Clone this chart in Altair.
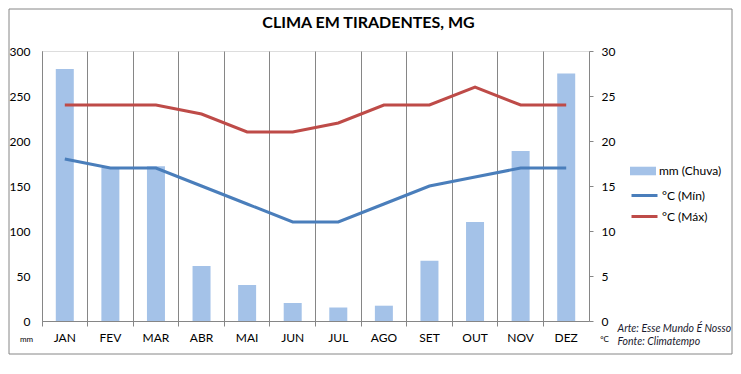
import altair as alt
import pandas as pd

months = ["JAN", "FEV", "MAR", "ABR", "MAI", "JUN", "JUL", "AGO", "SET", "OUT", "NOV", "DEZ"]
rain_mm = [280, 170, 172, 61, 40, 20, 15, 17, 67, 110, 189, 275]
temp_min = [18, 17, 17, 15, 13, 11, 11, 13, 15, 16, 17, 17]
temp_max = [24, 24, 24, 23, 21, 21, 22, 24, 24, 26, 24, 24]

rain_label = "mm (Chuva)"
min_label = "°C (Mín)"
max_label = "°C (Máx)"
title_text = "CLIMA EM TIRADENTES, MG"

FONT = "Lato"
GRAY = "#868686"
W, H = 547, 270

bars_df = pd.DataFrame({"mes": months, "chuva": rain_mm, "serie": rain_label})
lines_df = pd.DataFrame({
    "mes": months * 2,
    "temp": temp_min + temp_max,
    "serie": [min_label] * 12 + [max_label] * 12,
})

x_enc = alt.X(
    "mes:N", sort=months,
    scale=alt.Scale(paddingInner=0, paddingOuter=0),
    axis=alt.Axis(
        title=["Arte: Esse Mundo É Nosso", "Fonte: Climatempo"],
        titleX=575, titleY=10, titleAlign="left", titleAngle=0,
        titleBaseline="alphabetic", titleFontStyle="italic", titleFontWeight="normal",
        titleFontSize=10.5, titleLineHeight=13, titleColor="#1a1a2e", titleFont=FONT,
        labelAngle=0, labelFontSize=12, labelColor="#000", labelFont=FONT,
        labelPadding=6, tickSize=5, tickColor=GRAY, domainColor=GRAY,
        bandPosition=0, grid=True, gridColor=GRAY, gridOpacity=1,
    ),
)

one = pd.DataFrame({"k": [0]})

border = alt.Chart(one).mark_rect(
    fill=None, stroke=GRAY, strokeWidth=1
).encode(
    x=alt.value(-33), x2=alt.value(690), y=alt.value(-42), y2=alt.value(303)
)

title = alt.Chart(one).mark_text(
    font=FONT, fontSize=16, fontWeight="bold", color="#000",
    align="center", baseline="middle"
).encode(
    x=alt.value(W / 2 + 53), y=alt.value(-28), text=alt.value(title_text)
)

bars = alt.Chart(bars_df).mark_bar(width=18).encode(
    x=x_enc,
    y=alt.Y(
        "chuva:Q", scale=alt.Scale(domain=[0, 300], nice=False),
        axis=alt.Axis(
            orient="left", values=[0, 50, 100, 150, 200, 250, 300], grid=False,
            ticks=False, tickSize=0, labelPadding=12, domainColor=GRAY,
            labelFontSize=12, labelColor="#000", labelFont=FONT,
            title="mm", titleAngle=0, titleX=-16, titleY=288, titleAlign="center",
            titleBaseline="middle", titleFontSize=8, titleFontWeight="normal",
            titleColor="#000", titleFont=FONT,
        ),
    ),
    color=alt.Color(
        "serie:N",
        scale=alt.Scale(domain=[rain_label], range=["#A4C2E8"]),
        legend=alt.Legend(
            title=None, orient="none", legendX=588, legendY=107,
            symbolType="M-1,-0.33H1V0.33H-1Z", symbolSize=676,
            symbolStrokeWidth=0, labelFontSize=12, labelFont=FONT,
            labelColor="#000", labelOffset=3, padding=0,
        ),
    ),
)

lines = alt.Chart(lines_df).mark_line(strokeWidth=3).encode(
    x=x_enc,
    y=alt.Y(
        "temp:Q", scale=alt.Scale(domain=[0, 30], nice=False),
        axis=alt.Axis(
            orient="right", values=[0, 5, 10, 15, 20, 25, 30], grid=False,
            tickSize=4, tickColor=GRAY, labelPadding=8, domainColor=GRAY,
            labelFontSize=12, labelColor="#000", labelFont=FONT,
            title="°C", titleAngle=0, titleX=15, titleY=288, titleAlign="center",
            titleBaseline="middle", titleFontSize=8, titleFontWeight="normal",
            titleColor="#000", titleFont=FONT,
        ),
    ),
    stroke=alt.Stroke(
        "serie:N",
        scale=alt.Scale(domain=[min_label, max_label], range=["#4A7EBB", "#BE4B48"]),
        legend=alt.Legend(
            title=None, orient="none", legendX=588, legendY=130,
            symbolType="stroke", symbolSize=676, symbolStrokeWidth=3,
            labelFontSize=12, labelFont=FONT, labelColor="#000",
            labelOffset=3, rowPadding=0, padding=0,
        ),
    ),
    detail="serie:N",
)

chart = alt.layer(border, title, bars, lines).resolve_scale(
    y="independent", color="independent"
).properties(
    width=W, height=H,
    padding={"left": 34, "top": 43, "right": 144, "bottom": 45},
    autosize=alt.AutoSizeParams(type="none"),
).configure_view(stroke=None).configure(background="white")

chart.save("out.html", embed_options={"renderer": "svg", "actions": False})
